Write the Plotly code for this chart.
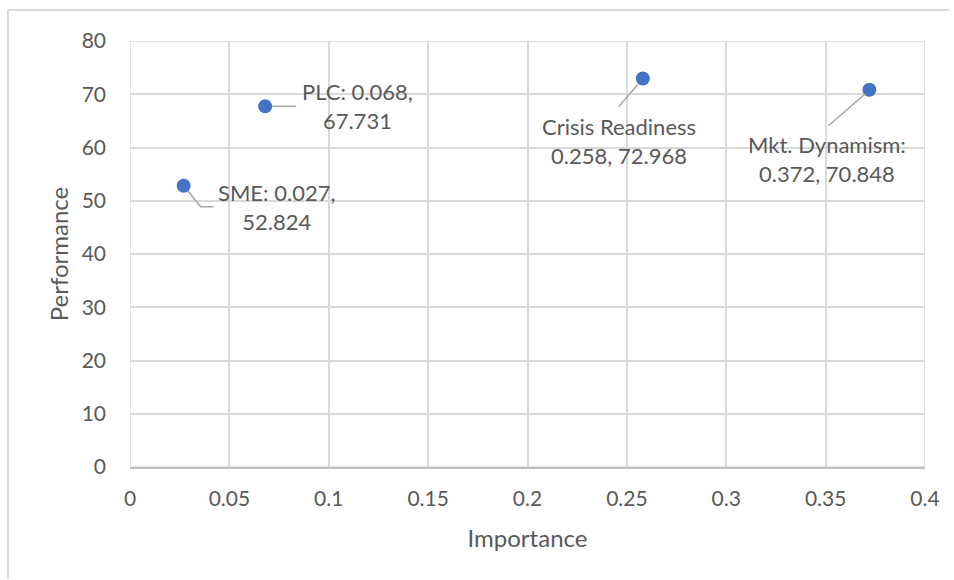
import plotly.graph_objects as go

labels = ["SME", "PLC", "Crisis Readiness", "Mkt. Dynamism"]
importance = [0.027, 0.068, 0.258, 0.372]
performance = [52.824, 67.731, 72.968, 70.848]
label_text = ["SME: 0.027,<br>52.824", "PLC: 0.068,<br>67.731",
              "Crisis Readiness<br>0.258, 72.968", "Mkt. Dynamism:<br>0.372, 70.848"]
x_ticks = [0, 0.05, 0.1, 0.15, 0.2, 0.25, 0.3, 0.35, 0.4]
x_tick_text = ["0", "0.05", "0.1", "0.15", "0.2", "0.25", "0.3", "0.35", "0.4"]
y_ticks = [0, 10, 20, 30, 40, 50, 60, 70, 80]

FONT = "Lato"
TXT = "#595959"
GRID = "#d9d9d9"

fig = go.Figure()
fig.add_trace(go.Scatter(
    x=importance, y=performance, mode="markers",
    marker=dict(color="#4472C4", size=14, line=dict(width=0)),
    hoverinfo="x+y", showlegend=False,
))

# label offsets (pixels) and leader-line paths (pixels relative to the point)
text_shift = [(93, -21), (92, 0), (-24, -63), (-42, -69)]
leaders = [
    "M 4 -5 L 17 -21 L 30 -21",
    "M 7 0 L 31 0",
    "M -5 -6 L -24 -28",
    "M -4 -4 L -41 -36",
]

for xv, yv, t, (dx, dy), p in zip(importance, performance, label_text, text_shift, leaders):
    fig.add_annotation(x=xv, y=yv, text=t, showarrow=False, xshift=dx, yshift=dy,
                       font=dict(family=FONT, size=22, color=TXT), align="center")
    fig.add_shape(type="path", path=p, xref="x", yref="y", xanchor=xv, yanchor=yv,
                  xsizemode="pixel", ysizemode="pixel",
                  line=dict(color="#a6a6a6", width=1.5), layer="above")

# outer frame lines
fig.add_shape(type="line", xref="paper", yref="paper", x0=-122/795, x1=1.03, y0=1 + 31/426, y1=1 + 31/426,
              line=dict(color="#d9d9d9", width=2))
fig.add_shape(type="line", xref="paper", yref="paper", x0=-122/795, x1=-122/795, y0=1 + 31/426, y1=-112/426,
              line=dict(color="#d9d9d9", width=2))

fig.update_layout(
    width=954, height=580,
    margin=dict(l=130, r=29, t=41, b=113),
    paper_bgcolor="white", plot_bgcolor="white",
    font=dict(family=FONT, size=21, color=TXT),
    xaxis=dict(range=[0, 0.4], tickvals=x_ticks, ticktext=x_tick_text,
               showgrid=True, gridcolor=GRID, gridwidth=1.5,
               zeroline=False, showline=True, linecolor="#bfbfbf", linewidth=1.5, mirror=False,
               ticks="", ticklen=0, ticklabelstandoff=12, tickfont=dict(size=21, color=TXT),
               title=dict(text="Importance", font=dict(size=24, color=TXT), standoff=21)),
    yaxis=dict(range=[0, 80], tickvals=y_ticks,
               showgrid=True, gridcolor=GRID, gridwidth=1.5,
               zeroline=False, showline=False,
               ticks="", ticklen=0, ticklabelstandoff=23, tickfont=dict(size=21, color=TXT),
               title=dict(text="Performance", font=dict(size=24, color=TXT), standoff=6)),
)
fig.add_shape(type="rect", xref="x", yref="y", x0=0, x1=0.4, y0=0, y1=80,
              line=dict(color=GRID, width=1.5), layer="below")

fig.write_html("out.html")
